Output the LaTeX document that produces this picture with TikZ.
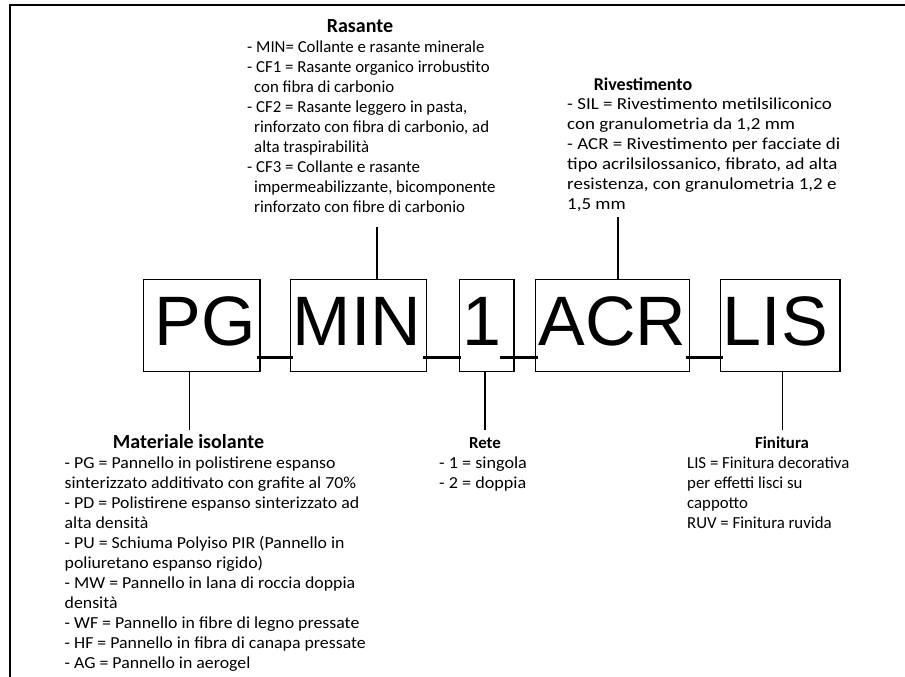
\documentclass[tikz,border=0pt]{standalone}
\usepackage{fontspec}
\setmainfont{Carlito}
\newfontfamily\codefont{Liberation Sans}
\begin{document}
\begin{tikzpicture}[x=1pt,y=-1pt,
  codebox/.style={draw=black, line width=1.4pt, inner sep=0pt,
    minimum height=92.4pt, text height=50pt, text depth=11pt,
    font=\codefont\fontsize{70}{80}\selectfont},
  joint/.style={line width=3pt},
  stem/.style={line width=1.5pt},
  head/.style={anchor=base, inner sep=0pt,
    font=\bfseries\fontsize{#1}{20}\selectfont},
  head/.default=16.8,
  desc/.style={anchor=north west, inner sep=0pt, align=left,
    font=\fontsize{16.8}{20}\selectfont\addfontfeature{FakeStretch=#1}},
  desc/.default=1,
  frame/.style={line width=1.5pt}
]
\useasboundingbox (0,0) rectangle (905,677);

% outer frame (top and left edges only)
\draw[frame] (10,677) -- (10,5) -- (905,5);

% code segments
\node[codebox, minimum width=116.7pt] (pg)  at (201.65,325.5) {\hspace*{6.7pt}PG};
\node[codebox, minimum width=136pt]   (min) at (358.7,325.5)  {MIN\hspace*{3.4pt}};
\node[codebox, minimum width=54.7pt]  (one) at (486.65,325.5) {1\hspace*{10.3pt}};
\node[codebox, minimum width=154pt]   (acr) at (612.3,325.5)  {ACR};
\node[codebox, minimum width=119.3pt] (lis) at (780.35,325.5) {LIS\hspace*{9.7pt}};

% underscores joining the segments
\draw[joint] ([xshift=-4pt,yshift=14.7pt]pg.south east)   -- ([xshift=3.4pt,yshift=14.7pt]min.south west);
\draw[joint] ([xshift=-4pt,yshift=14.7pt]min.south east)  -- ([xshift=2.4pt,yshift=14.7pt]one.south west);
\draw[joint] ([xshift=-14.7pt,yshift=14.7pt]one.south east) -- ([xshift=3pt,yshift=14.7pt]acr.south west);
\draw[joint] ([xshift=-4.3pt,yshift=14.7pt]acr.south east) -- ([xshift=3.3pt,yshift=14.7pt]lis.south west);

% leader lines to the legends
\coordinate (tMIN) at (377,227);
\coordinate (tACR) at (618,217);
\coordinate (bPG)  at (189.5,430);
\coordinate (bONE) at (485,430);
\coordinate (bLIS) at (782.3,430);
\draw[stem] (tMIN) -- (tMIN |- min.north);
\draw[stem] (tACR) -- (tACR |- acr.north);
\draw[stem] (bPG)  -- (bPG |- pg.south);
\draw[stem] (bONE) -- (bONE |- one.south);
\draw[stem] (bLIS) -- (bLIS |- lis.south);

% Rasante
\node[head=20] (hRas) at (360,33) {Rasante};
\node[desc] (dRas) at (247,38) {\strut- MIN= Collante e rasante minerale\\
- CF1 = Rasante organico irrobustito\\
\hspace*{7pt}con fibra di carbonio\\
- CF2 = Rasante leggero in pasta,\\
\hspace*{7pt}rinforzato con fibra di carbonio, ad\\
\hspace*{7pt}alta traspirabilità\\
- CF3 = Collante e rasante\\
\hspace*{7pt}impermeabilizzante, bicomponente\\
\hspace*{7pt}rinforzato con fibre di carbonio};

% Rivestimento
\node[head=18] (hRiv) at (643,90) {Rivestimento};
\node[desc=1.13] (dRiv) at (567,95.5) {\strut- SIL = Rivestimento metilsiliconico\\
con granulometria da 1,2 mm\\
- ACR = Rivestimento per facciate di\\
tipo acrilsilossanico, fibrato, ad alta\\
resistenza, con granulometria 1,2 e\\
1,5 mm};

% Materiale isolante
\node[head=20] (hMat) at (188.5,448.5) {Materiale isolante};
\node[desc=1.06] (dMat) at (64.5,454.5) {\strut- PG = Pannello in polistirene espanso\\
sinterizzato additivato con grafite al 70\%\\
- PD = Polistirene espanso sinterizzato ad\\
alta densità\\
- PU = Schiuma Polyiso PIR (Pannello in\\
poliuretano espanso rigido)\\
- MW = Pannello in lana di roccia doppia\\
densità\\
- WF = Pannello in fibre di legno pressate\\
- HF = Pannello in fibra di canapa pressate\\
- AG = Pannello in aerogel};

% Rete
\node[head] (hRete) at (485,448.5) {Rete};
\node[desc=1.08] (dRete) at (439,454.5) {\strut- 1 = singola\\
- 2 = doppia};

% Finitura
\node[head] (hFin) at (782,448.5) {Finitura};
\node[desc] (dFin) at (687,454.5) {\strut LIS = Finitura decorativa\\
per effetti lisci su\\
cappotto\\
RUV = Finitura ruvida};
\end{tikzpicture}
\end{document}
